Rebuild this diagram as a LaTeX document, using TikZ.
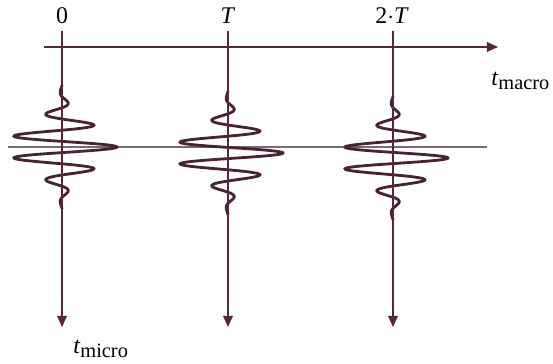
\documentclass[tikz,border=0pt]{standalone}
\usepackage{fontspec}
\setmainfont{Liberation Serif}
\usepackage{tikz}
\usetikzlibrary{arrows.meta}

\definecolor{axiscol}{RGB}{88,38,58}
\definecolor{wavecol}{RGB}{72,36,44}
\definecolor{midcol}{RGB}{120,108,112}

\begin{document}
\begin{tikzpicture}[x=0.025cm,y=-0.025cm,
    axis/.style={axiscol,line width=0.9pt,-{Triangle[width=7pt,length=8pt]}},
    wave/.style={wavecol,line width=2pt},
    lbl/.style={font=\fontsize{17}{19}\selectfont,inner sep=0pt}]
        \useasboundingbox (0,0) rectangle (553,363);
        \coordinate (hstart) at (44,47); \coordinate (hend) at (498,47);
        \coordinate (mstart) at (8,147); \coordinate (mend) at (487,147);
        \coordinate (top0) at (62,31); \coordinate (bot0) at (62,327);
        \coordinate (top1) at (228,31); \coordinate (bot1) at (228,327);
        \coordinate (top2) at (393,31); \coordinate (bot2) at (393,327);
        \draw[midcol,line width=1pt] (mstart) -- (mend); % linia del mig
        % ones
        \draw[wave] plot[domain=-62:62,samples=260,smooth] ({62+55*exp(-((\x/30)^2))*cos(180*\x/11.2)},{147+(\x)});
        \draw[wave] plot[domain=-62:62,samples=260,smooth] ({228+55*exp(-((\x/30)^2))*cos(180*\x/11.2)},{153+(\x)});
        \draw[wave] plot[domain=-62:62,samples=260,smooth] ({393+55*exp(-((\x/30)^2))*cos(180*\x/11.2)},{158+(\x)});
        \draw[axis] (hstart) -- (hend); % temps macro
        \draw[axis] (top0) -- (bot0); \draw[axis] (top1) -- (bot1); \draw[axis] (top2) -- (bot2);
        \node[lbl,anchor=base] (l0) at (62,23) {0};
        \node[lbl,anchor=base] (l1) at (228,23) {\textit{T}};
        \node[lbl,anchor=base] (l2) at (392,23) {2$\cdot$\textit{T}};
        \node[lbl,anchor=base west] (tmacro) at (491,85) {\textit{t}\raisebox{-3pt}{\fontsize{14.5}{16}\selectfont macro}};
        \node[lbl,anchor=base west] (tmicro) at (73,353) {\textit{t}\raisebox{-3pt}{\fontsize{14.5}{16}\selectfont micro}};
    \end{tikzpicture}
\end{document}
